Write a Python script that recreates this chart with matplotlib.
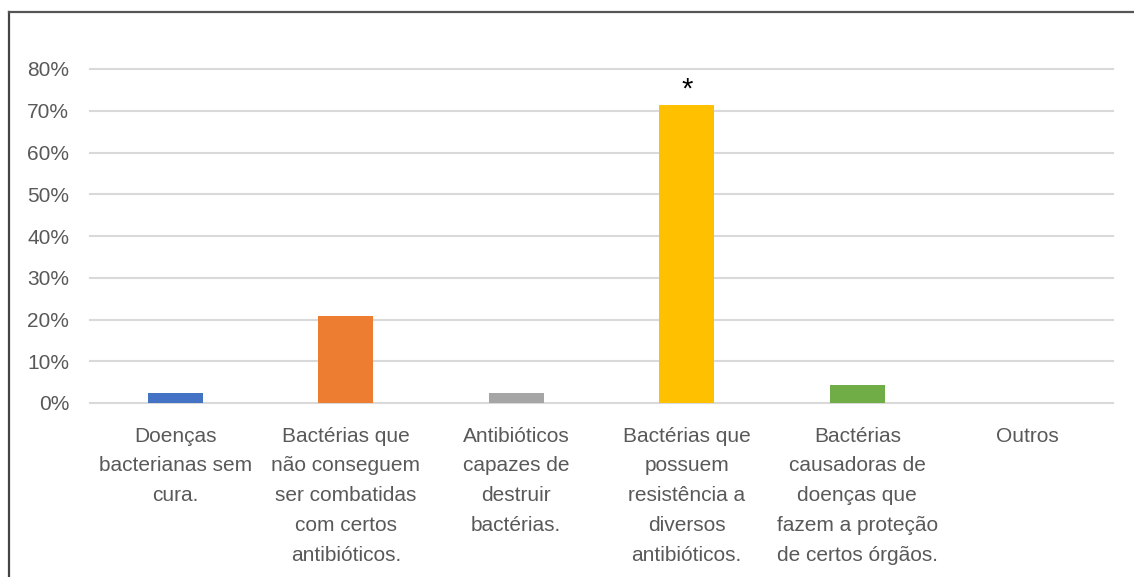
import matplotlib.pyplot as plt
from matplotlib.lines import Line2D
from matplotlib.ticker import PercentFormatter

# Dados
categorias = [
    "Doenças\nbacterianas sem\ncura.",
    "Bactérias que\nnão conseguem\nser combatidas\ncom certos\nantibióticos.",
    "Antibióticos\ncapazes de\ndestruir\nbactérias.",
    "Bactérias que\npossuem\nresistência a\ndiversos\nantibióticos.",
    "Bactérias\ncausadoras de\ndoenças que\nfazem a proteção\nde certos órgãos.",
    "Outros",
]
valores = [0.023, 0.208, 0.023, 0.714, 0.043, 0.0]
cores = ["#4472C4", "#ED7D31", "#A5A5A5", "#FFC000", "#70AD47", "#5B9BD5"]
yticks = [0, 0.1, 0.2, 0.3, 0.4, 0.5, 0.6, 0.7, 0.8]

plt.rcParams['font.family'] = ['Liberation Sans', 'DejaVu Sans']

fig = plt.figure(figsize=(11.34, 5.77), dpi=100)
ax = fig.add_axes([90 / 1134, 1 - 403 / 577, (1113 - 90) / 1134, (403 - 69) / 577])

x = range(len(categorias))
ax.bar(x, valores, width=0.32, color=cores, zorder=3)

# asterisco acima da barra mais alta
ax.text(3, valores[3] + 0.003, "*", ha='center', va='bottom', fontsize=21, color='black')

ax.set_xlim(-0.5, len(categorias) - 0.5)
ax.set_ylim(0, 0.8)
ax.set_yticks(yticks)
ax.yaxis.set_major_formatter(PercentFormatter(1.0, decimals=0))
ax.set_xticks(list(x))
ax.set_xticklabels(categorias, fontsize=15, color='#595959', linespacing=1.72)
ax.tick_params(axis='x', length=0, pad=17)
ax.tick_params(axis='y', length=0, pad=15, labelsize=15, labelcolor='#595959')

for y in yticks:
    ax.axhline(y, color='#D9D9D9', linewidth=1.5, zorder=1, clip_on=False)

for s in ax.spines.values():
    s.set_visible(False)

# moldura do gráfico (apenas esquerda e topo visíveis)
fig.add_artist(Line2D([9 / 1134, 9 / 1134], [0, 1 - 12 / 577], color='#444444', linewidth=1.6))
fig.add_artist(Line2D([9 / 1134, 1], [1 - 12 / 577, 1 - 12 / 577], color='#555555', linewidth=1.6))

plt.savefig('out.png', dpi=100)
